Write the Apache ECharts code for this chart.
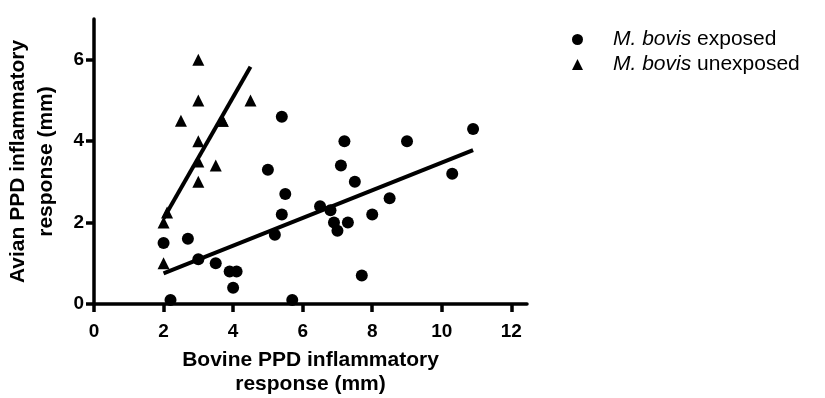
<!DOCTYPE html>
<html>
<head>
<meta charset="utf-8">
<script src="https://cdn.jsdelivr.net/npm/echarts@6/dist/echarts.min.js"></script>
<style>
  html, body { margin: 0; padding: 0; background: #fff; }
  #chart { width: 825px; height: 398px; }
</style>
</head>
<body>
<div id="chart"></div>
<script>
// Skin-test responses (mm): bovine PPD on x, avian PPD on y
const exposedBovine = [5.4, 5.0, 5.5, 5.4, 5.2, 2.0, 2.7, 3.0, 3.5, 3.9, 4.1, 4.0, 2.2,
                       7.2, 9.0, 10.9, 7.1, 7.5, 10.3, 6.5, 6.8, 8.5, 8.0, 7.3, 6.9, 7.0, 7.7, 5.7];
const exposedAvian  = [4.6, 3.3, 2.7, 2.2, 1.7, 1.5, 1.6, 1.1, 1.0, 0.8, 0.8, 0.4, 0.1,
                       4.0, 4.0, 4.3, 3.4, 3.0, 3.2, 2.4, 2.3, 2.6, 2.2, 2.0, 2.0, 1.8, 0.7, 0.1];

const unexposedBovine = [3.0, 3.0, 4.5, 2.5, 3.7, 3.7, 3.0, 3.0, 3.5, 3.0, 2.1, 2.0, 2.0];
const unexposedAvian  = [6.0, 5.0, 5.0, 4.5, 4.5, 4.5, 4.0, 3.5, 3.4, 3.0, 2.25, 2.0, 1.0];

// Linear fit endpoints for each group
const exposedFitX = [2.0, 10.9];
const exposedFitY = [0.75, 3.78];
const unexposedFitX = [2.0, 4.5];
const unexposedFitY = [2.1, 5.83];

const xTicks = [0, 2, 4, 6, 8, 10, 12];
const yTicks = [0, 2, 4, 6];

const seriesNames = ['exposed', 'unexposed'];

const zip = (a, b) => a.map((v, i) => [v, b[i]]);

const FONT = '"Liberation Sans", Arial, sans-serif';

const axisCommon = {
  type: 'value',
  nameLocation: 'middle',
  nameMoveOverlap: false,
  nameTextStyle: { fontFamily: FONT, fontWeight: 'bold', fontSize: 21, color: '#000', lineHeight: 24 },
  axisLine: { show: true, onZero: false, lineStyle: { color: '#000', width: 3.5 } },
  axisTick: { show: true, length: 8, lineStyle: { color: '#000', width: 3.5 } },
  axisLabel: { fontFamily: FONT, fontWeight: 'bold', fontSize: 19, color: '#000' },
  splitLine: { show: false }
};

const option = {
  backgroundColor: '#fff',
  animation: false,
  grid: { left: 94, right: 298, top: 19, bottom: 94, containLabel: false, outerBoundsMode: 'none' },
  xAxis: Object.assign({}, axisCommon, {
    min: 0, max: 12.45,
    name: 'Bovine PPD inflammatory\nresponse (mm)',
    nameGap: 44,
    axisTick: Object.assign({}, axisCommon.axisTick, { customValues: xTicks }),
    axisLabel: Object.assign({}, axisCommon.axisLabel, { customValues: xTicks, margin: 18 })
  }),
  yAxis: Object.assign({}, axisCommon, {
    min: 0, max: 7,
    name: 'Avian PPD inflammatory\nresponse (mm)',
    nameGap: 34,
    nameRotate: 90,
    nameTextStyle: Object.assign({}, axisCommon.nameTextStyle, { lineHeight: 28 }),
    axisTick: Object.assign({}, axisCommon.axisTick, { customValues: yTicks }),
    axisLabel: Object.assign({}, axisCommon.axisLabel, { customValues: yTicks, margin: 10 })
  }),
  legend: {
    orient: 'vertical',
    left: 567,
    top: 23,
    itemGap: 2,
    itemWidth: 11,
    itemHeight: 11,
    data: seriesNames,
    formatter: n => '{i|M. bovis} ' + n,
    textStyle: {
      fontFamily: FONT, fontSize: 21, lineHeight: 23, color: '#000', padding: [0, 0, 0, 25],
      rich: { i: { fontFamily: FONT, fontSize: 21, lineHeight: 23, fontStyle: 'italic', color: '#000' } }
    }
  },
  series: [
    {
      name: seriesNames[0], type: 'scatter', symbol: 'circle', symbolSize: 12,
      itemStyle: { color: '#000', opacity: 1 },
      data: zip(exposedBovine, exposedAvian), z: 3
    },
    {
      name: seriesNames[1], type: 'scatter', symbol: 'triangle', symbolSize: 12,
      itemStyle: { color: '#000', opacity: 1 },
      data: zip(unexposedBovine, unexposedAvian), z: 3
    },
    {
      name: 'exposed fit', type: 'line', symbol: 'none', silent: true,
      lineStyle: { color: '#000', width: 4 },
      data: zip(exposedFitX, exposedFitY), z: 4
    },
    {
      name: 'unexposed fit', type: 'line', symbol: 'none', silent: true,
      lineStyle: { color: '#000', width: 4 },
      data: zip(unexposedFitX, unexposedFitY), z: 4
    }
  ]
};

echarts.init(document.getElementById('chart'), null, { renderer: 'canvas' }).setOption(option);
</script>
</body>
</html>
